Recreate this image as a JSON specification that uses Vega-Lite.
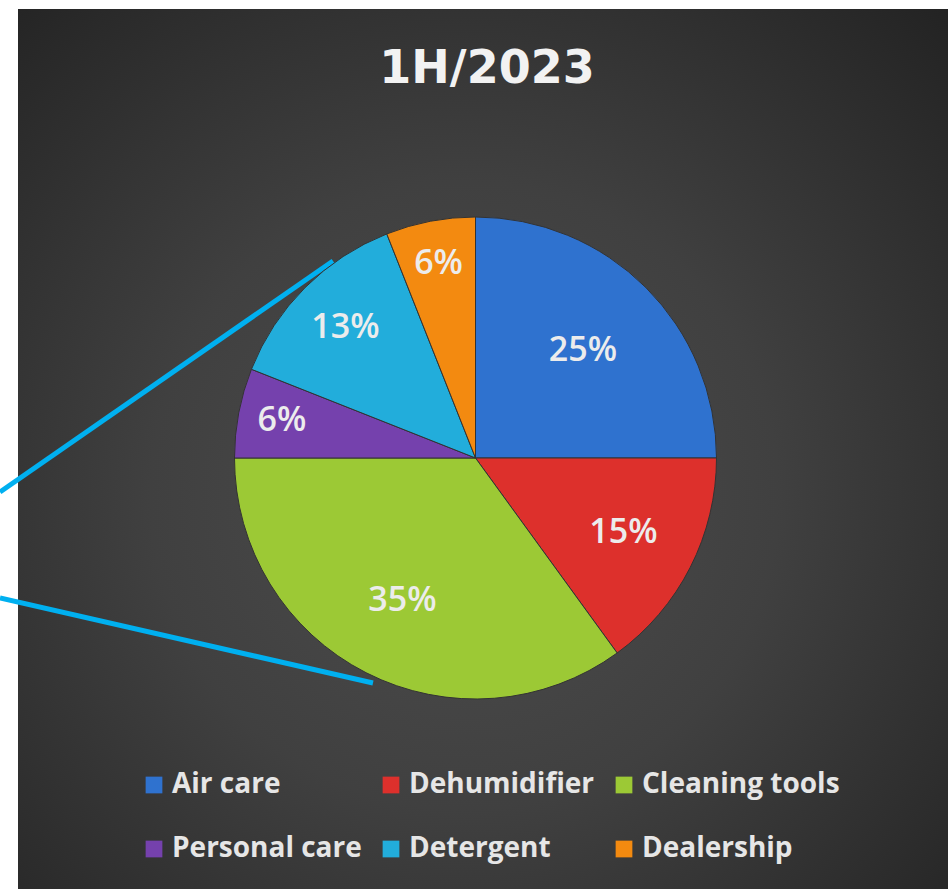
{
  "$schema": "https://vega.github.io/schema/vega-lite/v6.json",
  "width": 930,
  "height": 880,
  "autosize": {"type": "none"},
  "padding": {"left": 18, "top": 9, "right": 0, "bottom": 0},
  "background": "white",
  "title": {
    "text": "1H/2023",
    "font": "DejaVu Sans",
    "fontWeight": "bold",
    "fontSize": 46,
    "color": "#f2f2f2",
    "offset": -120,
    "baseline": "alphabetic",
    "anchor": "middle",
    "frame": "group",
    "dx": 4
  },
  "config": {
    "view": {"stroke": null},
    "legend": {
      "orient": "none",
      "legendX": 122,
      "legendY": 762,
      "columns": 3,
      "direction": "horizontal",
      "symbolType": "square",
      "symbolSize": 280,
      "symbolStrokeWidth": 0,
      "labelFont": "Open Sans",
      "labelFontWeight": "bold",
      "labelFontSize": 28,
      "labelColor": "#e6e6e6",
      "labelOffset": 4,
      "labelLimit": 400,
      "rowPadding": 36,
      "columnPadding": 15,
      "padding": 0
    }
  },
  "datasets": {
    "shares": [
      {"category": "Air care", "share": 0.25, "rank": 1},
      {"category": "Dehumidifier", "share": 0.15, "rank": 2},
      {"category": "Cleaning tools", "share": 0.35, "rank": 3},
      {"category": "Personal care", "share": 0.06, "rank": 4},
      {"category": "Detergent", "share": 0.13, "rank": 5},
      {"category": "Dealership", "share": 0.06, "rank": 6}
    ],
    "callout": [
      {"xa": -18, "ya": 483, "xb": 315, "yb": 252},
      {"xa": -18, "ya": 589, "xb": 355, "yb": 674}
    ]
  },
  "layer": [
    {
      "data": {"values": [{}]},
      "mark": {
        "type": "rect",
        "fill": {
          "gradient": "radial",
          "x1": 0.48, "y1": 0.55, "r1": 0,
          "x2": 0.48, "y2": 0.55, "r2": 0.75,
          "stops": [
            {"offset": 0, "color": "#4d4d4d"},
            {"offset": 0.45, "color": "#404040"},
            {"offset": 1, "color": "#222222"}
          ]
        }
      },
      "encoding": {}
    },
    {
      "data": {"name": "callout"},
      "mark": {"type": "rule", "color": "#00b0f0", "strokeWidth": 5, "strokeCap": "butt", "clip": false},
      "encoding": {
        "x": {"field": "xa", "type": "quantitative", "scale": {"domain": [0, 930], "nice": false, "zero": false}, "axis": null},
        "y": {"field": "ya", "type": "quantitative", "scale": {"domain": [0, 880], "nice": false, "zero": false, "reverse": true}, "axis": null},
        "x2": {"field": "xb"},
        "y2": {"field": "yb"}
      }
    },
    {
      "data": {"name": "shares"},
      "mark": {"type": "arc", "radius": 241, "stroke": "#333333", "strokeWidth": 1},
      "encoding": {
        "x": {"datum": 457.5, "type": "quantitative"},
        "y": {"datum": 449, "type": "quantitative"},
        "theta": {"field": "share", "type": "quantitative", "stack": true},
        "order": {"field": "rank", "type": "quantitative"},
        "color": {
          "field": "category",
          "type": "nominal",
          "scale": {
            "domain": ["Air care", "Dehumidifier", "Cleaning tools", "Personal care", "Detergent", "Dealership"],
            "range": ["#2f72cf", "#dd302c", "#9cc935", "#7541ad", "#22addb", "#f38a10"]
          },
          "legend": {"title": null}
        }
      }
    },
    {
      "data": {"name": "shares"},
      "mark": {"type": "text", "font": "Open Sans", "fontWeight": 600, "fontSize": 34, "color": "#ececec", "align": "center", "baseline": "middle"},
      "encoding": {
        "x": {"datum": 457.5, "type": "quantitative"},
        "y": {"datum": 449, "type": "quantitative"},
        "theta": {"field": "share", "type": "quantitative", "stack": true},
        "radius": {"field": "share", "type": "quantitative", "scale": {"type": "linear", "domain": [0.06, 0.13, 0.15, 0.25, 0.35], "range": [197, 184, 166, 152, 161], "zero": false, "nice": false}, "legend": null},
        "order": {"field": "rank", "type": "quantitative"},
        "text": {"field": "share", "type": "quantitative", "format": ".0%"}
      }
    }
  ]
}
